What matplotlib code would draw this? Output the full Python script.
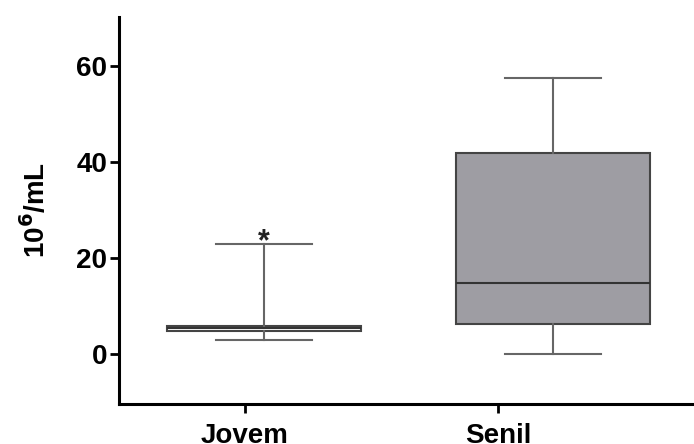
import matplotlib
matplotlib.use("Agg")
from matplotlib import pyplot as plt

plt.rcParams['font.family'] = ['Liberation Sans', 'DejaVu Sans']
plt.rcParams['font.weight'] = 'bold'

# box summary per group (10^6/mL)
groups = ['Jovem', 'Senil']
whislo = [2.9, 0.0]
q1 = [4.9, 6.2]
med = [5.35, 14.8]
q3 = [5.8, 41.9]
whishi = [22.9, 57.5]
fills = ['white', '#9e9da3']

stats = []
for i, g in enumerate(groups):
    stats.append({'label': g, 'whislo': whislo[i], 'q1': q1[i], 'med': med[i],
                  'q3': q3[i], 'whishi': whishi[i], 'fliers': []})

fig = plt.figure(figsize=(6.94, 4.44), dpi=100)
ax = fig.add_axes([119 / 694, 40 / 444, 1 - 119 / 694, (404 - 17) / 444])

pos = [1.075, 2.217]
bp = ax.bxp(stats, positions=pos, widths=0.767, patch_artist=True,
            showfliers=False, manage_ticks=False,
            boxprops=dict(edgecolor='#444444', linewidth=1.5),
            medianprops=dict(color='#333333', linewidth=1.5),
            whiskerprops=dict(color='#666666', linewidth=1.5),
            capprops=dict(color='#666666', linewidth=1.5),
            capwidths=0.38)
for patch, c in zip(bp['boxes'], fills):
    patch.set_facecolor(c)

# significance mark over the Jovem whisker
ax.text(pos[0], whishi[0] - 1.2, '*', ha='center', va='baseline',
        fontsize=22, fontweight='bold', color='#222222')

ax.set_xlim(0.502, 2.775)
ax.set_ylim(-10.4, 70.2)
ax.set_yticks([0, 20, 40, 60])
ax.set_xticks([1, 2])
ax.set_xticklabels(groups)
ax.set_ylabel('10$^{\\mathbf{6}}$/mL', fontsize=20, fontweight='bold', labelpad=18)

for s in ['top', 'right']:
    ax.spines[s].set_visible(False)
for s in ['left', 'bottom']:
    ax.spines[s].set_linewidth(2.2)
ax.tick_params(axis='both', width=2, length=6.5, labelsize=20)
ax.tick_params(axis='x', pad=7)
ax.tick_params(axis='y', pad=2)

fig.savefig('out.png', dpi=100)
